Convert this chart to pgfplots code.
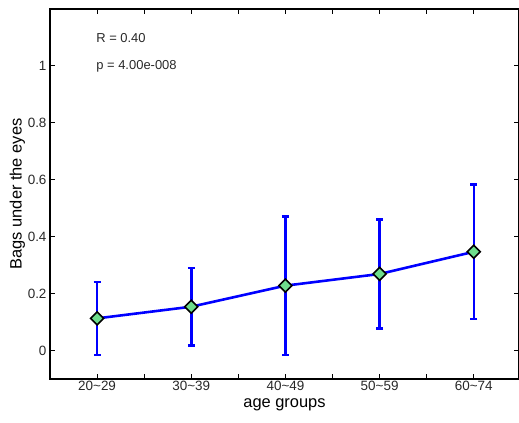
\documentclass[border=0pt]{standalone}
\usepackage{fontspec}
\setmainfont{Liberation Sans}
\usepackage{pgfplots}
\pgfplotsset{compat=1.18}
\definecolor{mfill}{RGB}{110,222,140}
\definecolor{txt}{RGB}{40,40,40}
\begin{document}
\begin{tikzpicture}
\begin{axis}[
    scale only axis, width=469bp, height=370bp,
    xmin=0.5, xmax=5.48, ymin=-0.1, ymax=1.2,
    xtick={1,2,3,4,5},
    xticklabels={20\textasciitilde29, 30\textasciitilde39, 40\textasciitilde49, 50\textasciitilde59, 60\textasciitilde74},
    minor xtick={1.5,2.5,3.5,4.5},
    ytick={0,0.2,0.4,0.6,0.8,1},
    yticklabels={0,0.2,0.4,0.6,0.8,1},
    tick align=inside, major tick length=5bp, minor tick length=5bp,
    tick style={black, line width=1pt},
    axis line style={line width=1.6pt},
    ticklabel style={font=\fontsize{13.5}{15}\selectfont, text=txt},
    xticklabel style={yshift=1bp},
    xlabel={age groups}, ylabel={Bags under the eyes},
    label style={font=\fontsize{16.5}{18}\selectfont},
    xlabel style={yshift=-1bp},
    ylabel style={yshift=-4bp},
    /pgf/number format/assume math mode=true,
]
\addplot[blue, line width=2.6pt,
    mark=square*, mark size=4.6bp,
    mark options={rotate=45, fill=mfill, draw=black, line width=1.6pt},
    error bars/.cd, y dir=both, y explicit,
    error bar style={blue, line width=2.6pt},
    error mark options={rotate=90, mark size=3.5bp, line width=2.6pt, blue}]
coordinates {
    (1,0.113) +- (0,0.128)
    (2,0.154) +- (0,0.136)
    (3,0.228) +- (0,0.243)
    (4,0.269) +- (0,0.192)
    (5,0.347) +- (0,0.236)
};
\node[anchor=west, font=\fontsize{13}{15}\selectfont, text=txt, inner sep=0pt] at (axis cs:0.99,1.098) {R = 0.40};
\node[anchor=west, font=\fontsize{13}{15}\selectfont, text=txt, inner sep=0pt] at (axis cs:0.99,1.0) {p = 4.00e-008};
\end{axis}
\pgfresetboundingbox
\useasboundingbox ([xshift=-50bp, yshift=-44bp]current axis.south west) rectangle ([yshift=9bp]current axis.north east);
\end{tikzpicture}
\end{document}
